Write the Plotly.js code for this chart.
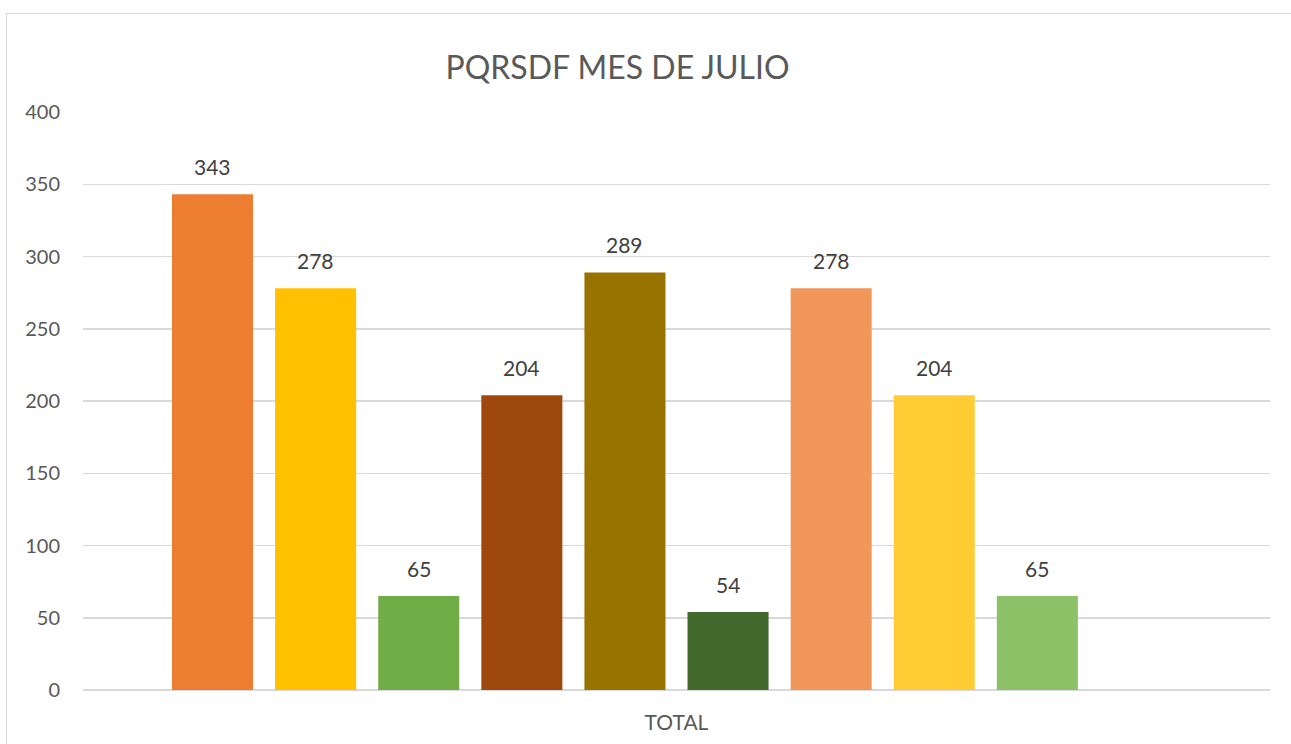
<!DOCTYPE html>
<html>
<head>
<meta charset="utf-8">
<script src="https://cdn.plot.ly/plotly-3.0.1.min.js"></script>
<style>
  html, body { margin: 0; padding: 0; background: #fff; overflow: hidden; }
  #chart { width: 1291px; height: 744px; }
  #frame { position: absolute; left: 6px; top: 13px; width: 1300px; height: 800px;
           border: 1.5px solid #d9d9d9; pointer-events: none; box-sizing: border-box; }
</style>
</head>
<body>
<div id="chart"></div>
<div id="frame"></div>
<script>
const category = ["TOTAL"];
const seriesNames = ["S1", "S2", "S3", "S4", "S5", "S6", "S7", "S8", "S9", "S10"];
const seriesValues = [343, 278, 65, 204, 289, 54, 278, 204, 65, null];
const seriesColors = ["#ED7D31", "#FFC000", "#70AD47", "#9E480E", "#997300",
                      "#43682B", "#F1975A", "#FFCD33", "#8CC168", "#A9D18E"];
const yTicks = [0, 50, 100, 150, 200, 250, 300, 350, 400];

const W = 1291, H = 744;
const margin = { l: 83, r: 21, t: 112, b: 54, pad: 0 };
const bargap = 0.1314, bargroupgap = 0.214;

const traces = seriesValues.map((v, i) => ({
  type: "bar",
  name: seriesNames[i],
  x: category,
  y: [v],
  marker: { color: seriesColors[i] },
  hoverinfo: "none"
}));

const plotW = W - margin.l - margin.r;
const slot = plotW * (1 - bargap) / seriesValues.length;
const annotations = [];
seriesValues.forEach((v, i) => {
  if (v === null) return;
  annotations.push({
    x: category[0], y: v, xref: "x", yref: "y",
    text: String(v), showarrow: false,
    xanchor: "center", yanchor: "bottom",
    xshift: (i - (seriesValues.length - 1) / 2) * slot,
    yshift: 13,
    font: { family: "Lato, 'Open Sans', sans-serif", size: 21, color: "#404040" }
  });
});

const layout = {
  width: W, height: H,
  margin: margin,
  paper_bgcolor: "rgba(0,0,0,0)",
  plot_bgcolor: "#fff",
  showlegend: false,
  barmode: "group",
  bargap: bargap,
  bargroupgap: bargroupgap,
  title: {
    text: "PQRSDF MES DE JULIO",
    x: 617.5 / W, xref: "container", xanchor: "center",
    y: 1 - 68 / H, yref: "container", yanchor: "middle",
    font: { family: "Lato, 'Open Sans', sans-serif", size: 32, color: "#595959" }
  },
  font: { family: "Lato, 'Open Sans', sans-serif", color: "#595959" },
  xaxis: {
    type: "category",
    showgrid: false, zeroline: false, showline: false, ticks: "",
    tickfont: { size: 21, color: "#595959" },
    ticklabelstandoff: 18,
    fixedrange: true
  },
  yaxis: {
    range: [0, 400],
    tickvals: yTicks,
    ticktext: yTicks.map(String),
    showgrid: true, gridcolor: "#d9d9d9", gridwidth: 1.5,
    zeroline: true, zerolinecolor: "#d9d9d9", zerolinewidth: 1.5,
    showline: false, ticks: "",
    tickfont: { size: 20, color: "#595959" },
    ticklabelstandoff: 22,
    fixedrange: true
  },
  annotations: annotations
};

Plotly.newPlot("chart", traces, layout, { displayModeBar: false, staticPlot: true });
</script>
</body>
</html>
